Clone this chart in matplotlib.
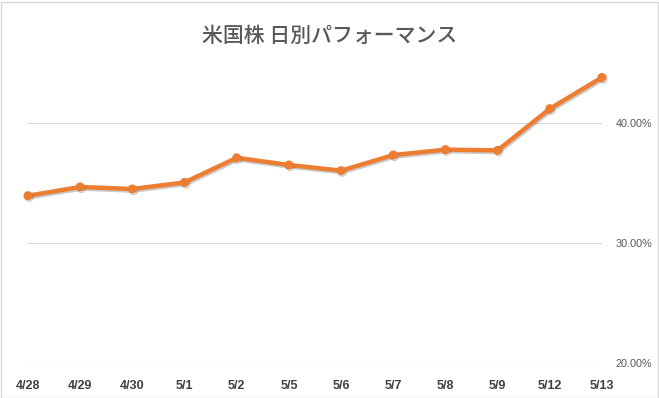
"""Daily performance line chart for US stocks (米国株 日別パフォーマンス)."""

import matplotlib

matplotlib.use("Agg")
import matplotlib.pyplot as plt
import matplotlib.patheffects as pe
from matplotlib.patches import Rectangle
from matplotlib.ticker import FuncFormatter

# data
dates = ["4/28", "4/29", "4/30", "5/1", "5/2", "5/5", "5/6", "5/7", "5/8", "5/9", "5/12", "5/13"]
perf_pct = [33.94, 34.67, 34.50, 35.05, 37.10, 36.50, 36.03, 37.33, 37.78, 37.72, 41.19, 43.80]
y_ticks = [20, 30, 40]

TITLE = "米国株 日別パフォーマンス"
LINE_COLOR = "#ED7D31"
TEXT_COLOR = "#595959"
GRID_COLOR = "#D9D9D9"

W, H = 659, 398
fig = plt.figure(figsize=(W / 100, H / 100), dpi=100)
fig.patch.set_facecolor("white")

# plot area placed in pixel terms
left, right = 28, 602
bottom, top = 363, 63
ax = fig.add_axes([left / W, 1 - bottom / H, (right - left) / W, (bottom - top) / H])

x = list(range(len(dates)))
ax.plot(
    x, perf_pct,
    color=LINE_COLOR, lw=3.2, marker="o", ms=5.5, mec=LINE_COLOR, mfc=LINE_COLOR,
    solid_capstyle="round", solid_joinstyle="round", clip_on=False, zorder=3,
    path_effects=[pe.SimpleLineShadow(offset=(0.8, -1.2), shadow_color="#555555", alpha=0.3), pe.Normal()],
)

ax.set_xlim(0, len(dates) - 1)
ax.set_ylim(20, 45)
ax.set_yticks(y_ticks)
ax.yaxis.set_major_formatter(FuncFormatter(lambda v, _: f"{v:.2f}%"))
ax.yaxis.tick_right()
ax.grid(axis="y", color=GRID_COLOR, lw=0.8)
ax.set_axisbelow(True)
ax.set_xticks(x)
ax.set_xticklabels(dates)

for s in ax.spines.values():
    s.set_visible(False)
ax.tick_params(axis="both", length=0)
ax.tick_params(axis="y", pad=10, labelsize=7.8, labelcolor=TEXT_COLOR)
ax.tick_params(axis="x", pad=12, labelsize=9, labelcolor="#404040")
for lab in ax.get_yticklabels():
    lab.set_fontfamily("Liberation Sans")
for lab in ax.get_xticklabels():
    lab.set_fontfamily("Liberation Sans")
    lab.set_fontweight("bold")

fig.text(0.5, 1 - 36 / H, TITLE, ha="center", va="center", fontsize=15,
         fontweight="medium", color=TEXT_COLOR, family=["Noto Sans CJK JP", "DejaVu Sans"])

# light border round the chart
fig.patches.append(Rectangle((0.5 / W, 0.5 / H), (W - 2) / W, (H - 2) / H,
                             transform=fig.transFigure, fill=False,
                             edgecolor=GRID_COLOR, lw=1.0))

fig.savefig("out.png", dpi=100)
